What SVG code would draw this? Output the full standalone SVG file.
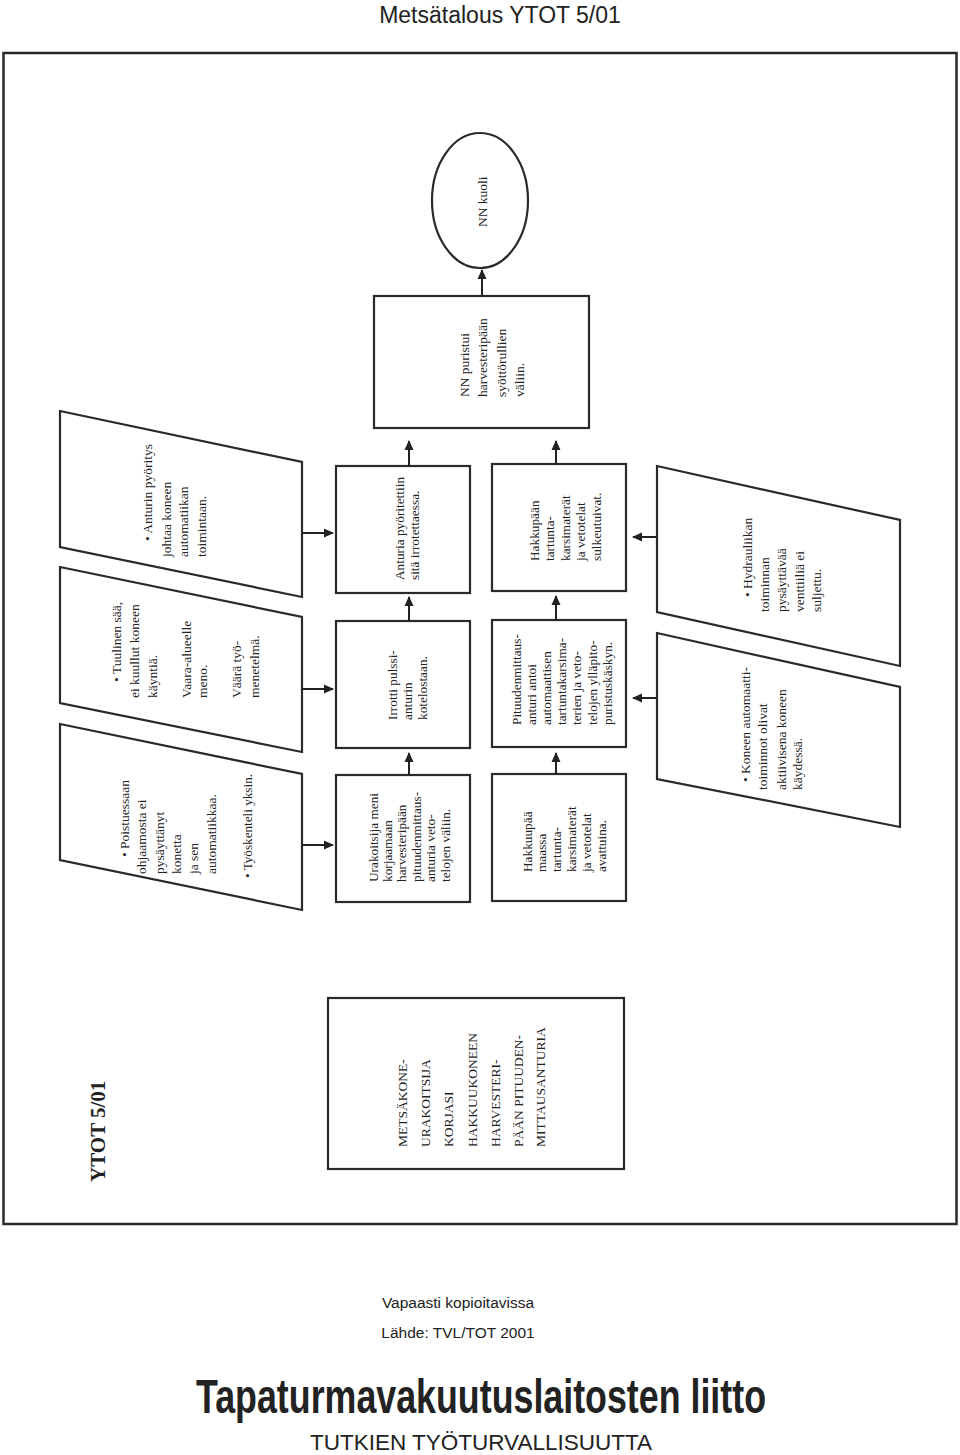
<svg xmlns="http://www.w3.org/2000/svg" width="960" height="1455" viewBox="0 0 960 1455">
<defs>
<marker id="ah" markerWidth="10" markerHeight="10" refX="9" refY="5" orient="auto" markerUnits="userSpaceOnUse">
<path d="M0,0.5 L10,5 L0,9.5 Z" fill="#222"/>
</marker>
<style>
.sh{fill:#fff;stroke:#2a2a2a;stroke-width:2.2}
.t{font-family:"Liberation Serif","Times New Roman",serif;font-size:13.5px;fill:#222}
.tb{font-family:"Liberation Serif","Times New Roman",serif;font-size:13.3px;fill:#222}
.cn{stroke:#222;stroke-width:2;fill:none;marker-end:url(#ah)}
.ft{font-family:"Liberation Sans",Arial,sans-serif;fill:#222}
</style>
</defs>
<rect width="960" height="1455" fill="#fff"/>
<text class="ft" x="500" y="23" font-size="23" text-anchor="middle">Metsätalous YTOT 5/01</text>
<rect x="3.5" y="53" width="953" height="1171" fill="none" stroke="#2a2a2a" stroke-width="2.5"/>

<g id="title-ytot"><text transform="translate(105,1182) rotate(-90)" font-family="Liberation Serif,serif" font-weight="bold" font-size="21" fill="#222">YTOT 5/01</text></g>

<g id="top-event">
<rect class="sh" x="328" y="998" width="296" height="171"/>
<text class="t" font-size="14" transform="translate(407,1147) rotate(-90)">
<tspan x="0" y="0">METSÄKONE-</tspan><tspan x="0" y="23">URAKOITSIJA</tspan><tspan x="0" y="46">KORJASI</tspan><tspan x="0" y="70">HAKKUUKONEEN</tspan><tspan x="0" y="93">HARVESTERI-</tspan><tspan x="0" y="116">PÄÄN PITUUDEN-</tspan><tspan x="0" y="138">MITTAUSANTURIA</tspan>
</text>
</g>

<g id="p1">
<polygon class="sh" points="60,411 302,462 302,597 60,547"/>
<text class="t" transform="translate(151.5,557) rotate(-90)"><tspan x="16" y="0">• Anturin pyöritys</tspan><tspan x="0" y="19">johtaa koneen</tspan><tspan x="0" y="36">automatiikan</tspan><tspan x="0" y="54">toimintaan.</tspan></text>
</g>
<g id="p2">
<polygon class="sh" points="60,567 302,617 302,752 60,703"/>
<text class="t" transform="translate(120.5,698) rotate(-90)"><tspan x="16" y="0">• Tuulinen sää,</tspan><tspan x="0" y="18">ei kuullut koneen</tspan><tspan x="0" y="36">käyntiä.</tspan><tspan x="0" y="70">Vaara-alueelle</tspan><tspan x="0" y="86">meno.</tspan><tspan x="0" y="120">Väärä työ-</tspan><tspan x="0" y="138">menetelmä.</tspan></text>
</g>
<g id="p3">
<polygon class="sh" points="60,724 302,774 302,910 60,860"/>
<text class="t" transform="translate(128.5,874) rotate(-90)"><tspan x="17" y="0">• Poistuessaan</tspan><tspan x="0" y="17">ohjaamosta ei</tspan><tspan x="0" y="35">pysäyttänyt</tspan><tspan x="0" y="52">konetta</tspan><tspan x="0" y="69">ja sen</tspan><tspan x="0" y="87">automatiikkaa.</tspan><tspan x="-4" y="123" textLength="104" lengthAdjust="spacingAndGlyphs">• Työskenteli yksin.</tspan></text>
</g>

<g id="b-anturia">
<rect class="sh" x="336" y="466" width="134" height="127"/>
<text class="tb" transform="translate(403.5,580) rotate(-90)"><tspan x="0" y="0">Anturia pyöritettiin</tspan><tspan x="0" y="15">sitä irrotettaessa.</tspan></text>
</g>
<g id="b-irrotti">
<rect class="sh" x="336" y="621" width="134" height="127"/>
<text class="tb" transform="translate(397,720) rotate(-90)"><tspan x="0" y="0">Irrotti pulssi-</tspan><tspan x="0" y="15">anturin</tspan><tspan x="0" y="30">kotelostaan.</tspan></text>
</g>
<g id="b-urakoitsija">
<rect class="sh" x="336" y="775" width="134" height="127"/>
<text class="tb" transform="translate(377.5,882) rotate(-90)"><tspan x="0" y="0">Urakoitsija meni</tspan><tspan x="0" y="14.4">korjaamaan</tspan><tspan x="0" y="28.8">harvesteripään</tspan><tspan x="0" y="43.2">pituudenmittaus-</tspan><tspan x="0" y="57.6">anturia veto-</tspan><tspan x="0" y="72">telojen väliin.</tspan></text>
</g>

<g id="b-sulkeutuivat">
<rect class="sh" x="492" y="464" width="134" height="127"/>
<text class="tb" transform="translate(538.5,561) rotate(-90)"><tspan x="0" y="0">Hakkupään</tspan><tspan x="0" y="15.5">tartunta-</tspan><tspan x="0" y="31">karsimaterät</tspan><tspan x="0" y="46.5">ja vetotelat</tspan><tspan x="0" y="62">sulkeutuivat.</tspan></text>
</g>
<g id="b-pituus">
<rect class="sh" x="492" y="620" width="134" height="127"/>
<text class="tb" transform="translate(520.5,725) rotate(-90)"><tspan x="0" y="0">Pituudenmittaus-</tspan><tspan x="0" y="15.2">anturi antoi</tspan><tspan x="0" y="30.4">automaattisen</tspan><tspan x="0" y="45.6">tartuntakarsima-</tspan><tspan x="0" y="60.8">terien ja veto-</tspan><tspan x="0" y="76">telojen ylläpito-</tspan><tspan x="0" y="91.2">puristuskäskyn.</tspan></text>
</g>
<g id="b-maassa">
<rect class="sh" x="492" y="774" width="134" height="127"/>
<text class="tb" transform="translate(531.5,872) rotate(-90)"><tspan x="0" y="0">Hakkuupää</tspan><tspan x="0" y="14.8">maassa</tspan><tspan x="0" y="29.6">tartunta-</tspan><tspan x="0" y="44.4">karsimaterät</tspan><tspan x="0" y="59.2">ja vetotelat</tspan><tspan x="0" y="74">avattuina.</tspan></text>
</g>

<g id="p-hydrauliikka">
<polygon class="sh" points="657,466 900,520 900,666 657,612"/>
<text class="t" transform="translate(751.5,612) rotate(-90)"><tspan x="15" y="0">• Hydrauliikan</tspan><tspan x="0" y="17">toiminnan</tspan><tspan x="0" y="34">pysäyttävää</tspan><tspan x="0" y="52">venttiiliä ei</tspan><tspan x="0" y="69">suljettu.</tspan></text>
</g>
<g id="p-automaatti">
<polygon class="sh" points="657,633 900,687 900,827 657,779"/>
<text class="t" transform="translate(749.5,790) rotate(-90)"><tspan x="8" y="0">• Koneen automaatti-</tspan><tspan x="0" y="17">toiminnot olivat</tspan><tspan x="0" y="36">aktiivisena koneen</tspan><tspan x="0" y="52">käydessä.</tspan></text>
</g>

<g id="b-puristui">
<rect class="sh" x="374" y="296" width="215" height="132"/>
<text class="t" font-size="14.5" transform="translate(469,397) rotate(-90)"><tspan x="0" y="0">NN puristui</tspan><tspan x="0" y="18.3">harvesteripään</tspan><tspan x="0" y="36.6">syöttörullien</tspan><tspan x="0" y="55">väliin.</tspan></text>
</g>
<g id="e-kuoli">
<ellipse class="sh" cx="480" cy="200.5" rx="48" ry="67.5"/>
<text class="t" font-size="14" transform="translate(487,227) rotate(-90)">NN kuoli</text>
</g>

<g id="connectors">
<line class="cn" x1="482" y1="296" x2="482" y2="270"/>
<line class="cn" x1="409" y1="466" x2="409" y2="441"/>
<line class="cn" x1="556" y1="464" x2="556" y2="441"/>
<line class="cn" x1="409" y1="621" x2="409" y2="597"/>
<line class="cn" x1="409" y1="775" x2="409" y2="753"/>
<line class="cn" x1="556" y1="620" x2="556" y2="596"/>
<line class="cn" x1="556" y1="774" x2="556" y2="753"/>
<line class="cn" x1="302" y1="533" x2="333" y2="533"/>
<line class="cn" x1="302" y1="689" x2="333" y2="689"/>
<line class="cn" x1="302" y1="845" x2="333" y2="845"/>
<line class="cn" x1="657" y1="537" x2="633" y2="537"/>
<line class="cn" x1="657" y1="698" x2="633" y2="698"/>
</g>

<g id="footer">
<text class="ft" x="458" y="1308" font-size="15.5" text-anchor="middle">Vapaasti kopioitavissa</text>
<text class="ft" x="458" y="1338" font-size="15.5" text-anchor="middle">Lähde: TVL/TOT 2001</text>
<text x="481" y="1413" font-family="Liberation Sans Narrow,Liberation Sans,sans-serif" font-weight="bold" font-size="48" fill="#222" text-anchor="middle" textLength="570" lengthAdjust="spacingAndGlyphs">Tapaturmavakuutuslaitosten liitto</text>
<text class="ft" x="481" y="1450" font-size="22.5" text-anchor="middle">TUTKIEN TYÖTURVALLISUUTTA</text>
</g>
</svg>
